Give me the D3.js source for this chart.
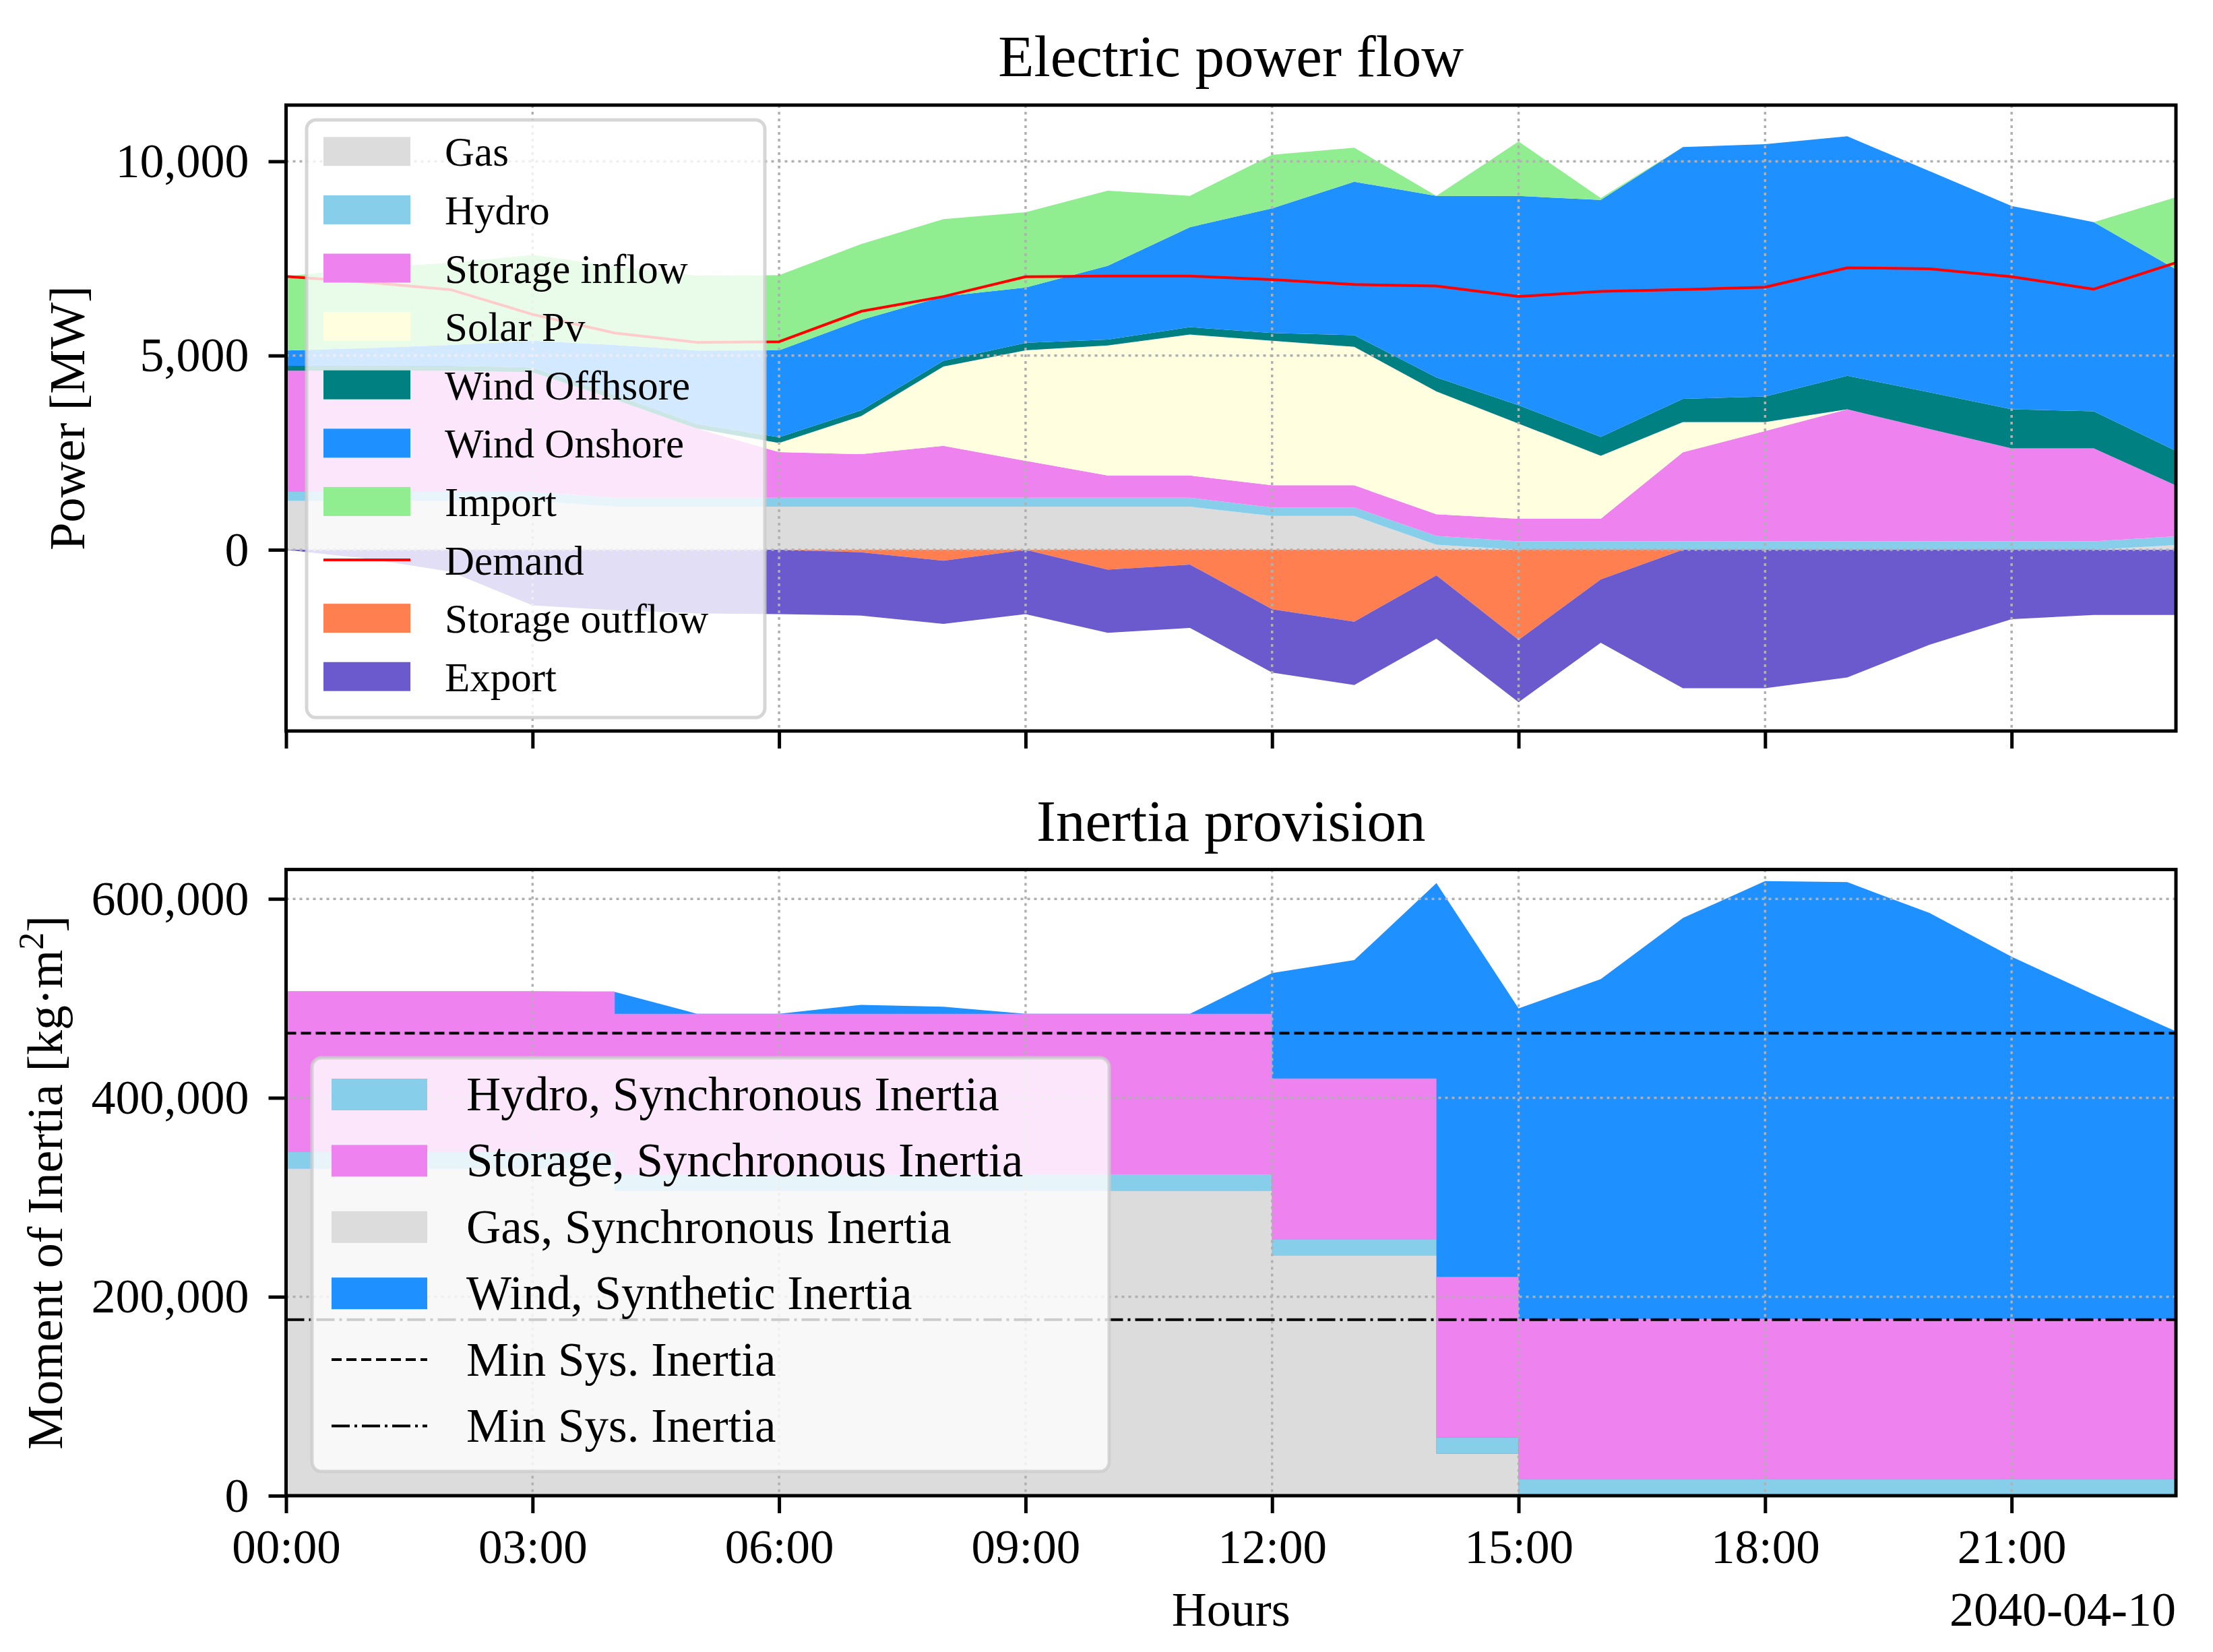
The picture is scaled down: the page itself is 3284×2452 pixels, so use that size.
<!DOCTYPE html>
<html>
<head>
<meta charset="utf-8">
<script src="https://cdn.jsdelivr.net/npm/d3@7"></script>
<style>
  body { margin: 0; background: #fff; }
  svg { display: block; font-family: "Liberation Serif", "DejaVu Serif", serif; }
  .grid line { stroke: #b0b0b0; stroke-width: 3.5; stroke-dasharray: 4,6; }
  .axis line { stroke: #000; stroke-width: 5; }
  .axis path { display: none; }
</style>
</head>
<body>
<div id="chart"></div>
<script>
(function () {
  const W = 3284, H = 2452;

  // time axis, one point per hour on 2040-04-10
  const day = "2040-04-10";
  const hourLabels = ["00:00", "01:00", "02:00", "03:00", "04:00", "05:00", "06:00", "07:00",
    "08:00", "09:00", "10:00", "11:00", "12:00", "13:00", "14:00", "15:00",
    "16:00", "17:00", "18:00", "19:00", "20:00", "21:00", "22:00", "23:00"];

  // electric power flow [MW]
  const gas = [1258, 1258, 1258, 1258, 1109, 1109, 1109, 1109, 1109, 1109, 1109, 1109,
    870, 870, 130, 0, 0, 0, 0, 0, 0, 0, 0, 120];
  const hydro = [232, 232, 232, 232, 232, 232, 232, 232, 232, 232, 232, 232,
    220, 220, 227, 215, 215, 215, 215, 215, 215, 215, 215, 225];
  const storageInflow = [3121, 3121, 3121, 3080, 2525, 1779, 1175, 1120, 1335, 950, 570, 570,
    570, 570, 560, 585, 585, 2295, 2840, 3400, 2895, 2395, 2395, 1310];
  const solarPv = [0, 0, 0, 0, 0, 0, 232, 980, 2040, 2845, 3350, 3630,
    3720, 3565, 3160, 2450, 1620, 775, 230, 0, 0, 0, 0, 0];
  const windOffshore = [124, 124, 124, 124, 124, 120, 150, 150, 150, 190, 150, 190,
    200, 300, 360, 470, 485, 600, 660, 865, 945, 1005, 955, 890];
  const windOnshore = [397, 455, 538, 686, 1283, 1892, 2235, 2330, 1655, 1425, 1900, 2575,
    3210, 3950, 4675, 5390, 6100, 6485, 6495, 6165, 5695, 5235, 4870, 4675];
  const importFlow = [1904, 2070, 2111, 2211, 2027, 1928, 1937, 1950, 1990, 1940, 1935, 805,
    1380, 875, 0, 1400, 50, 0, 0, 0, 0, 0, 0, 1855];
  const demand = [7036, 6887, 6697, 6060, 5580, 5340, 5356, 6140, 6520, 7030, 7045, 7045,
    6955, 6830, 6790, 6520, 6650, 6700, 6760, 7260, 7235, 7030, 6710, 7390];
  const storageOutflow = [0, 0, 0, 0, 0, 0, 0, -65, -280, 0, -510, -380,
    -1530, -1850, -660, -2320, -765, 0, 0, 0, 0, 0, 0, 0];
  const exportFlow = [0, -232, -563, -1432, -1556, -1639, -1656, -1630, -1630, -1655, -1630, -1630,
    -1630, -1630, -1630, -1605, -1630, -3565, -3565, -3285, -2445, -1785, -1680, -1680];

  // inertia provision [kg m^2]
  const gasInertia = [329000, 329000, 329000, 329000, 306700, 306700, 306700, 306700, 306700, 306700, 306700, 306700,
    241600, 241600, 42100, 0, 0, 0, 0, 0, 0, 0, 0, 0];
  const hydroInertia = [16500, 16500, 16500, 16500, 16300, 16300, 16300, 16300, 16300, 16300, 16300, 16300,
    16300, 16300, 16300, 16300, 16300, 16300, 16300, 16300, 16300, 16300, 16300, 16300];
  const storageInertia = [161500, 161500, 161500, 161500, 161500, 161500, 161500, 161500, 161500, 161500, 161500, 161500,
    161500, 161500, 161500, 161500, 161500, 161500, 161500, 161500, 161500, 161500, 161500, 161500];
  const windInertia = [0, 0, 0, 0, 22000, 0, 0, 9000, 7000, 0, 0, 0,
    106000, 119000, 396000, 312000, 341500, 403000, 440000, 439000, 408000, 364000, 326000, 289000];
  const minSysInertia = [465000, 177000];

  const powerTicks = [0, 5000, 10000];
  const inertiaTicks = [0, 200000, 400000, 600000];
  const powerLimits = [-4666, 11448];
  const inertiaLimits = [0, 629500];

  const parseTime = d3.utcParse("%Y-%m-%d %H:%M");
  const times = hourLabels.map(h => parseTime(day + " " + h));

  const colors = {
    gas: "#dcdcdc", hydro: "#87ceeb", storageInflow: "#ee82ee", solarPv: "#ffffe0",
    windOffshore: "#008080", windOnshore: "#1e90ff", importFlow: "#90ee90",
    storageOutflow: "#ff7f50", exportFlow: "#6a5acd"
  };

  const left = 424.5, right = 3229;
  const top1 = 156, bottom1 = 1085;
  const top2 = 1290.6, bottom2 = 2220;

  const svg = d3.select("#chart").append("svg")
    .attr("width", W)
    .attr("height", H)
    .attr("viewBox", [0, 0, W, H]);

  const x = d3.scaleUtc()
    .domain(d3.extent(times))
    .range([left, right]);
  const xTicks = x.ticks(d3.utcHour.every(3));

  const y1 = d3.scaleLinear().domain(powerLimits).range([bottom1, top1]);
  const y2 = d3.scaleLinear().domain(inertiaLimits).range([bottom2, top2]);

  const rows = times.map((t, i) => ({
    t: t,
    gas: gas[i], hydro: hydro[i], storageInflow: storageInflow[i], solarPv: solarPv[i],
    windOffshore: windOffshore[i], windOnshore: windOnshore[i], importFlow: importFlow[i],
    storageOutflow: storageOutflow[i], exportFlow: exportFlow[i], demand: demand[i],
    gasInertia: gasInertia[i], hydroInertia: hydroInertia[i], storageInertia: storageInertia[i],
    windInertia: windInertia[i]
  }));

  function clip(id, y0, y1v) {
    svg.append("clipPath").attr("id", id)
      .append("rect")
      .attr("x", left).attr("y", y0)
      .attr("width", right - left).attr("height", y1v - y0);
  }
  clip("clip1", top1, bottom1);
  clip("clip2", top2, bottom2);

  function grid(yScale, ticks, yTop, yBottom) {
    const g = svg.append("g").attr("class", "grid");
    g.selectAll("line.v").data(xTicks).join("line")
      .attr("class", "v")
      .attr("x1", d => x(d)).attr("x2", d => x(d))
      .attr("y1", yTop).attr("y2", yBottom);
    g.selectAll("line.h").data(ticks).join("line")
      .attr("class", "h")
      .attr("x1", left).attr("x2", right)
      .attr("y1", d => yScale(d)).attr("y2", d => yScale(d));
  }

  function frame(yTop, yBottom) {
    svg.append("rect")
      .attr("x", left).attr("y", yTop)
      .attr("width", right - left).attr("height", yBottom - yTop)
      .attr("fill", "none")
      .attr("stroke", "#000")
      .attr("stroke-width", 5);
  }

  function styleTicks(g, size) {
    g.attr("font-family", null).attr("font-size", size);
    g.selectAll("text").attr("fill", "#000");
  }

  // ---------- Electric power flow ----------
  const posKeys = ["gas", "hydro", "storageInflow", "solarPv", "windOffshore", "windOnshore", "importFlow"];
  const negKeys = ["storageOutflow", "exportFlow"];
  const posSeries = d3.stack().keys(posKeys)(rows);
  const negSeries = d3.stack().keys(negKeys)(rows);

  const area1 = d3.area()
    .x(d => x(d.data.t))
    .y0(d => y1(d[0]))
    .y1(d => y1(d[1]));

  const p1 = svg.append("g").attr("clip-path", "url(#clip1)");
  p1.selectAll("path.pos").data(posSeries).join("path")
    .attr("class", "pos")
    .attr("fill", s => colors[s.key])
    .attr("d", area1);
  p1.selectAll("path.neg").data(negSeries).join("path")
    .attr("class", "neg")
    .attr("fill", s => colors[s.key])
    .attr("d", area1);

  grid(y1, powerTicks, top1, bottom1);

  svg.append("path")
    .datum(rows)
    .attr("clip-path", "url(#clip1)")
    .attr("fill", "none")
    .attr("stroke", "#ff0000")
    .attr("stroke-width", 4)
    .attr("stroke-linejoin", "round")
    .attr("d", d3.line().x(d => x(d.t)).y(d => y1(d.demand)));

  svg.append("g")
    .attr("class", "axis")
    .attr("transform", "translate(" + left + ",0)")
    .call(d3.axisLeft(y1).tickValues(powerTicks).tickSize(26).tickPadding(29).tickFormat(d3.format(",")))
    .call(g => styleTicks(g, 72));

  svg.append("g")
    .attr("class", "axis")
    .attr("transform", "translate(0," + bottom1 + ")")
    .call(d3.axisBottom(x).tickValues(xTicks).tickSize(26).tickFormat(""));

  frame(top1, bottom1);

  svg.append("text")
    .attr("x", (left + right) / 2).attr("y", 113)
    .attr("text-anchor", "middle")
    .attr("font-size", 87)
    .text("Electric power flow");

  svg.append("text")
    .attr("transform", "translate(125," + (top1 + bottom1) / 2 + ") rotate(-90)")
    .attr("text-anchor", "middle")
    .attr("font-size", 74)
    .text("Power [MW]");

  // legend (top)
  const legend1 = [
    {label: "Gas", color: colors.gas},
    {label: "Hydro", color: colors.hydro},
    {label: "Storage inflow", color: colors.storageInflow},
    {label: "Solar Pv", color: colors.solarPv},
    {label: "Wind Offhsore", color: colors.windOffshore},
    {label: "Wind Onshore", color: colors.windOnshore},
    {label: "Import", color: colors.importFlow},
    {label: "Demand", color: "#ff0000", line: "solid"},
    {label: "Storage outflow", color: colors.storageOutflow},
    {label: "Export", color: colors.exportFlow}
  ];
  drawLegend(legend1, {
    x: 455, y: 178, w: 680, h: 887,
    patchX: 480, patchW: 129, patchH: 43, firstTop: 203.3, step: 86.6,
    textX: 660, fontSize: 61
  });

  // ---------- Inertia provision ----------
  const p2 = svg.append("g").attr("clip-path", "url(#clip2)");

  p2.append("path")
    .datum(rows)
    .attr("fill", colors.windOnshore)
    .attr("d", d3.area()
      .x(d => x(d.t))
      .y0(y2(0))
      .y1(d => y2(d.gasInertia + d.hydroInertia + d.storageInertia + d.windInertia)));

  const syncSeries = d3.stack().keys(["gasInertia", "hydroInertia", "storageInertia"])(rows);
  const syncColors = {gasInertia: colors.gas, hydroInertia: colors.hydro, storageInertia: colors.storageInflow};
  p2.selectAll("path.sync").data(syncSeries).join("path")
    .attr("class", "sync")
    .attr("fill", s => syncColors[s.key])
    .attr("d", d3.area()
      .curve(d3.curveStepAfter)
      .x(d => x(d.data.t))
      .y0(d => y2(d[0]))
      .y1(d => y2(d[1])));

  grid(y2, inertiaTicks, top2, bottom2);

  const minDash = ["15,7", "27,7,4,7"];
  svg.append("g").selectAll("line").data(minSysInertia).join("line")
    .attr("x1", left).attr("x2", right)
    .attr("y1", d => y2(d)).attr("y2", d => y2(d))
    .attr("stroke", "#000")
    .attr("stroke-width", 4)
    .attr("stroke-dasharray", (d, i) => minDash[i]);

  svg.append("g")
    .attr("class", "axis")
    .attr("transform", "translate(" + left + ",0)")
    .call(d3.axisLeft(y2).tickValues(inertiaTicks).tickSize(26).tickPadding(29).tickFormat(d3.format(",")))
    .call(g => styleTicks(g, 72));

  svg.append("g")
    .attr("class", "axis")
    .attr("transform", "translate(0," + bottom2 + ")")
    .call(d3.axisBottom(x).tickValues(xTicks).tickSize(26).tickPadding(24).tickFormat(d3.utcFormat("%H:%M")))
    .call(g => styleTicks(g, 71));

  frame(top2, bottom2);

  svg.append("text")
    .attr("x", (left + right) / 2).attr("y", 1248)
    .attr("text-anchor", "middle")
    .attr("font-size", 87)
    .text("Inertia provision");

  const ylab2 = svg.append("text")
    .attr("transform", "translate(92," + (top2 + bottom2) / 2 + ") rotate(-90)")
    .attr("text-anchor", "middle")
    .attr("font-size", 74);
  ylab2.append("tspan").text("Moment of Inertia [kg\u00b7m");
  ylab2.append("tspan").attr("dy", -28).attr("font-size", 52).text("2");
  ylab2.append("tspan").attr("dy", 28).text("]");

  svg.append("text")
    .attr("x", (left + right) / 2).attr("y", 2413)
    .attr("text-anchor", "middle")
    .attr("font-size", 72)
    .text("Hours");

  svg.append("text")
    .attr("x", right).attr("y", 2413)
    .attr("text-anchor", "end")
    .attr("font-size", 72)
    .text(day);

  const legend2 = [
    {label: "Hydro, Synchronous Inertia", color: colors.hydro},
    {label: "Storage, Synchronous Inertia", color: colors.storageInflow},
    {label: "Gas, Synchronous Inertia", color: colors.gas},
    {label: "Wind, Synthetic Inertia", color: colors.windOnshore},
    {label: "Min Sys. Inertia", color: "#000", line: minDash[0]},
    {label: "Min Sys. Inertia", color: "#000", line: minDash[1]}
  ];
  drawLegend(legend2, {
    x: 463, y: 1570, w: 1183, h: 614,
    patchX: 492, patchW: 142, patchH: 47, firstTop: 1601, step: 98.4,
    textX: 692, fontSize: 71
  });

  function drawLegend(entries, o) {
    const g = svg.append("g");
    g.append("rect")
      .attr("x", o.x).attr("y", o.y)
      .attr("width", o.w).attr("height", o.h)
      .attr("rx", 14)
      .attr("fill", "#fff").attr("fill-opacity", 0.8)
      .attr("stroke", "#cccccc").attr("stroke-opacity", 0.8)
      .attr("stroke-width", 5);
    entries.forEach((e, i) => {
      const ty = o.firstTop + i * o.step;
      if (e.line) {
        g.append("line")
          .attr("x1", o.patchX).attr("x2", o.patchX + o.patchW)
          .attr("y1", ty + o.patchH / 2).attr("y2", ty + o.patchH / 2)
          .attr("stroke", e.color)
          .attr("stroke-width", 4)
          .attr("stroke-dasharray", e.line === "solid" ? null : e.line);
      } else {
        g.append("rect")
          .attr("x", o.patchX).attr("y", ty)
          .attr("width", o.patchW).attr("height", o.patchH)
          .attr("fill", e.color);
      }
      g.append("text")
        .attr("x", o.textX).attr("y", ty + o.patchH)
        .attr("font-size", o.fontSize)
        .text(e.label);
    });
  }
})();
</script>
</body>
</html>
